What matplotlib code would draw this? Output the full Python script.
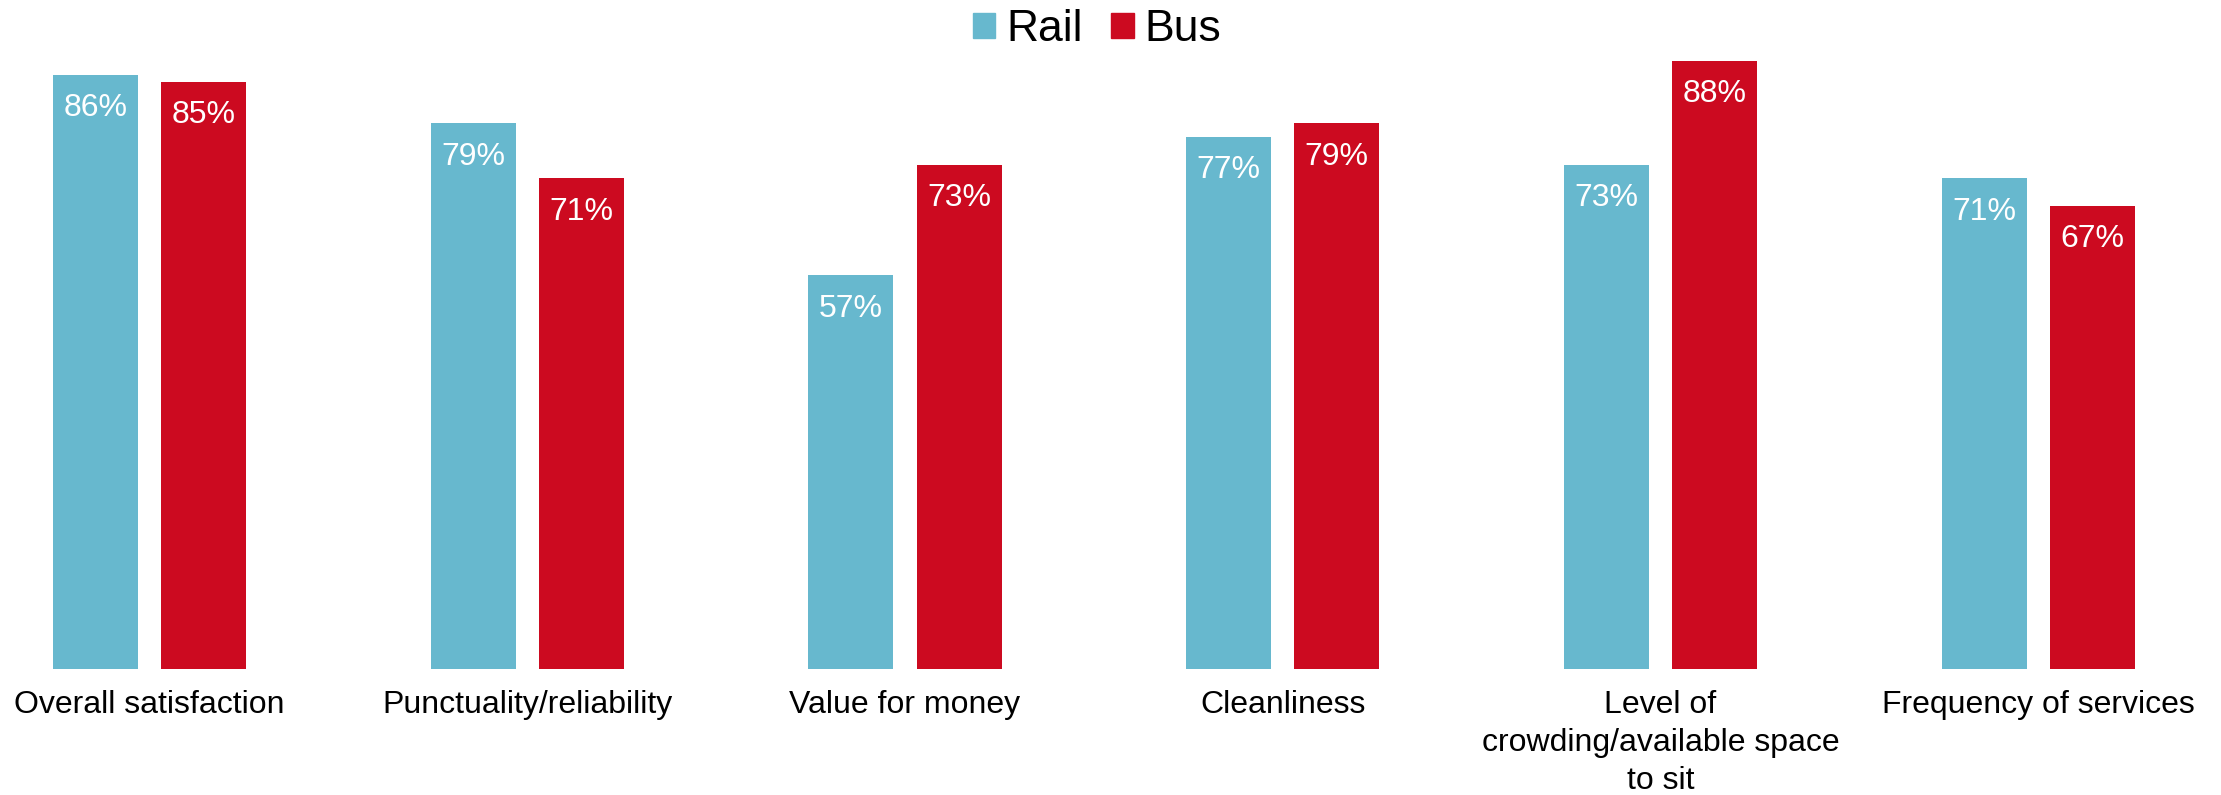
import matplotlib
matplotlib.use("Agg")
import matplotlib.pyplot as plt
import numpy as np
from matplotlib.patches import Patch

plt.rcParams['font.family'] = ['Liberation Sans', 'DejaVu Sans']

categories = ["Overall satisfaction", "Punctuality/reliability", "Value for money",
              "Cleanliness", "Level of\ncrowding/available space\nto sit", "Frequency of services"]
rail = [86, 79, 57, 77, 73, 71]
bus = [85, 71, 73, 79, 88, 67]
series_names = ["Rail", "Bus"]
rail_color = "#67B8CE"
bus_color = "#CC0A20"

fig = plt.figure(figsize=(22.21, 7.95), dpi=100)
ax = fig.add_axes([0, (795 - 669) / 795, 1, 608 / 795])

x = np.arange(len(categories))
w = 0.225
off = 0.143
b1 = ax.bar(x - off, rail, w, color=rail_color)
b2 = ax.bar(x + off, bus, w, color=bus_color)

for bars, vals in ((b1, rail), (b2, bus)):
    for b, v in zip(bars, vals):
        ax.annotate(f"{v}%", (b.get_x() + b.get_width() / 2, v), xytext=(0, -24),
                    textcoords="offset points", ha="center", va="center",
                    color="white", fontsize=23)

ax.set_xlim(-149.5 / 377.75, (2221 - 149.5) / 377.75)
ax.set_ylim(0, 88)
ax.set_xticks(x)
ax.set_xticklabels(categories, fontsize=23, linespacing=1.36)
ax.tick_params(axis='x', length=0, pad=15)
ax.set_yticks([])
for s in ax.spines.values():
    s.set_visible(False)
ax.patch.set_alpha(0)

handles = [Patch(color=rail_color), Patch(color=bus_color)]
fig.legend(handles, series_names, loc="upper center", bbox_to_anchor=(0.494, 1.039), ncol=2,
           frameon=False, fontsize=32, handlelength=0.5, handleheight=0.5,
           handletextpad=0.25, columnspacing=0.65)

fig.savefig("out.png", dpi=100)
